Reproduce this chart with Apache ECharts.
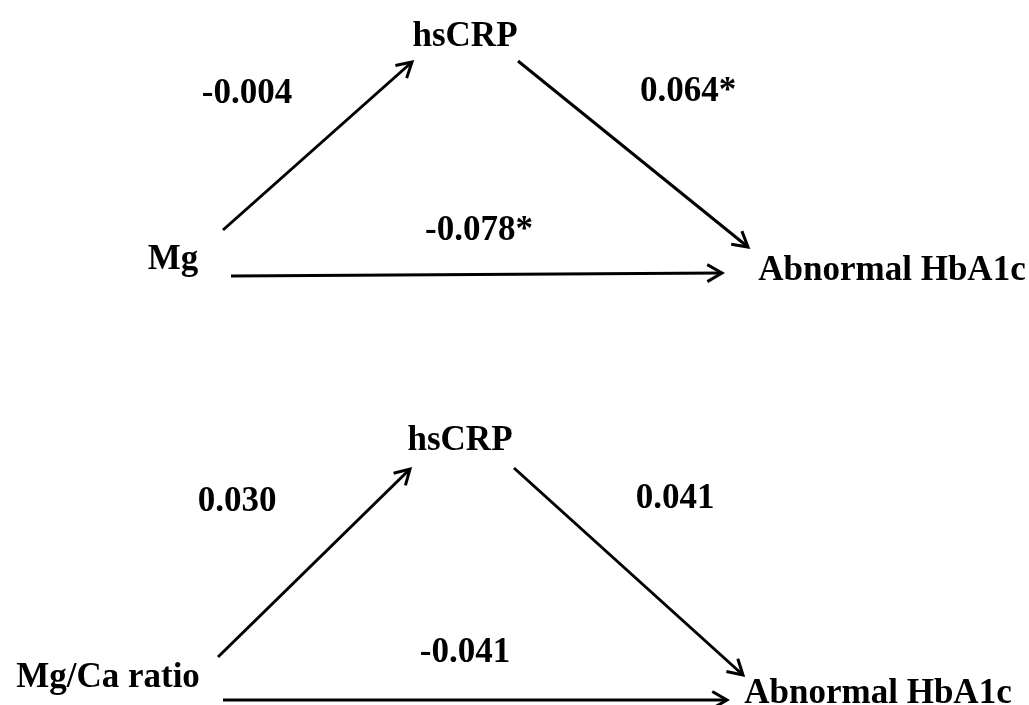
<!DOCTYPE html>
<html>
<head>
<meta charset="utf-8">
<script src="https://cdn.jsdelivr.net/npm/echarts@6/dist/echarts.min.js"></script>
<style>html,body{margin:0;padding:0;background:#fff}#c{width:1029px;height:705px}</style>
</head>
<body>
<div id="c"></div>
<script>
// Node labels of the two mediation diagrams
const nodeLabels = ['hsCRP', 'Mg', 'Abnormal HbA1c', 'hsCRP', 'Mg/Ca ratio', 'Abnormal HbA1c'];
const nodeX = [465, 173, 892, 460, 108, 878];
const nodeY = [37, 260, 271, 441, 678, 694];

// Path coefficients
const coefLabels = ['-0.004', '0.064*', '-0.078*', '0.030', '0.041', '-0.041'];
const coefX = [247, 688, 479, 237, 675, 465];
const coefY = [94, 92, 231, 502, 499, 653];

// Arrows: start x, start y, end x, end y
const arrowX1 = [223, 518, 231, 218, 514, 223];
const arrowY1 = [230, 61, 276, 657, 468, 700];
const arrowX2 = [412, 748, 722, 410, 743, 727];
const arrowY2 = [62, 247, 273, 469, 675, 700];

const textData = nodeLabels.map((t, i) => [nodeX[i], nodeY[i], t])
  .concat(coefLabels.map((t, i) => [coefX[i], coefY[i], t]));
const arrowData = arrowX1.map((x, i) => [x, arrowY1[i], arrowX2[i], arrowY2[i]]);

const chart = echarts.init(document.getElementById('c'), null, {renderer: 'canvas'});
chart.setOption({
  backgroundColor: '#ffffff',
  animation: false,
  grid: {left: 0, right: 0, top: 0, bottom: 0},
  xAxis: {type: 'value', min: 0, max: 1029, show: false},
  yAxis: {type: 'value', min: 0, max: 705, inverse: true, show: false},
  series: [
    {
      type: 'custom',
      coordinateSystem: 'cartesian2d',
      data: arrowData,
      renderItem: function (params, api) {
        const p1 = api.coord([api.value(0), api.value(1)]);
        const p2 = api.coord([api.value(2), api.value(3)]);
        const ang = Math.atan2(p2[1] - p1[1], p2[0] - p1[0]);
        const L = 17, a = Math.PI / 6;
        const h1 = [p2[0] - L * Math.cos(ang - a), p2[1] - L * Math.sin(ang - a)];
        const h2 = [p2[0] - L * Math.cos(ang + a), p2[1] - L * Math.sin(ang + a)];
        const st = {stroke: '#000', lineWidth: 3, fill: null, lineJoin: 'miter', lineCap: 'butt'};
        return {
          type: 'group',
          children: [
            {type: 'line', shape: {x1: p1[0], y1: p1[1], x2: p2[0], y2: p2[1]}, style: st},
            {type: 'polyline', shape: {points: [h1, p2, h2]}, style: st}
          ]
        };
      }
    },
    {
      type: 'custom',
      coordinateSystem: 'cartesian2d',
      data: textData,
      renderItem: function (params, api) {
        const p = api.coord([api.value(0), api.value(1)]);
        return {
          type: 'text',
          x: p[0], y: p[1],
          style: {
            text: textData[params.dataIndex][2],
            fill: '#000',
            font: 'bold 35px "Liberation Serif", "Times New Roman", serif',
            align: 'center',
            verticalAlign: 'middle'
          }
        };
      }
    }
  ]
});
</script>
</body>
</html>
